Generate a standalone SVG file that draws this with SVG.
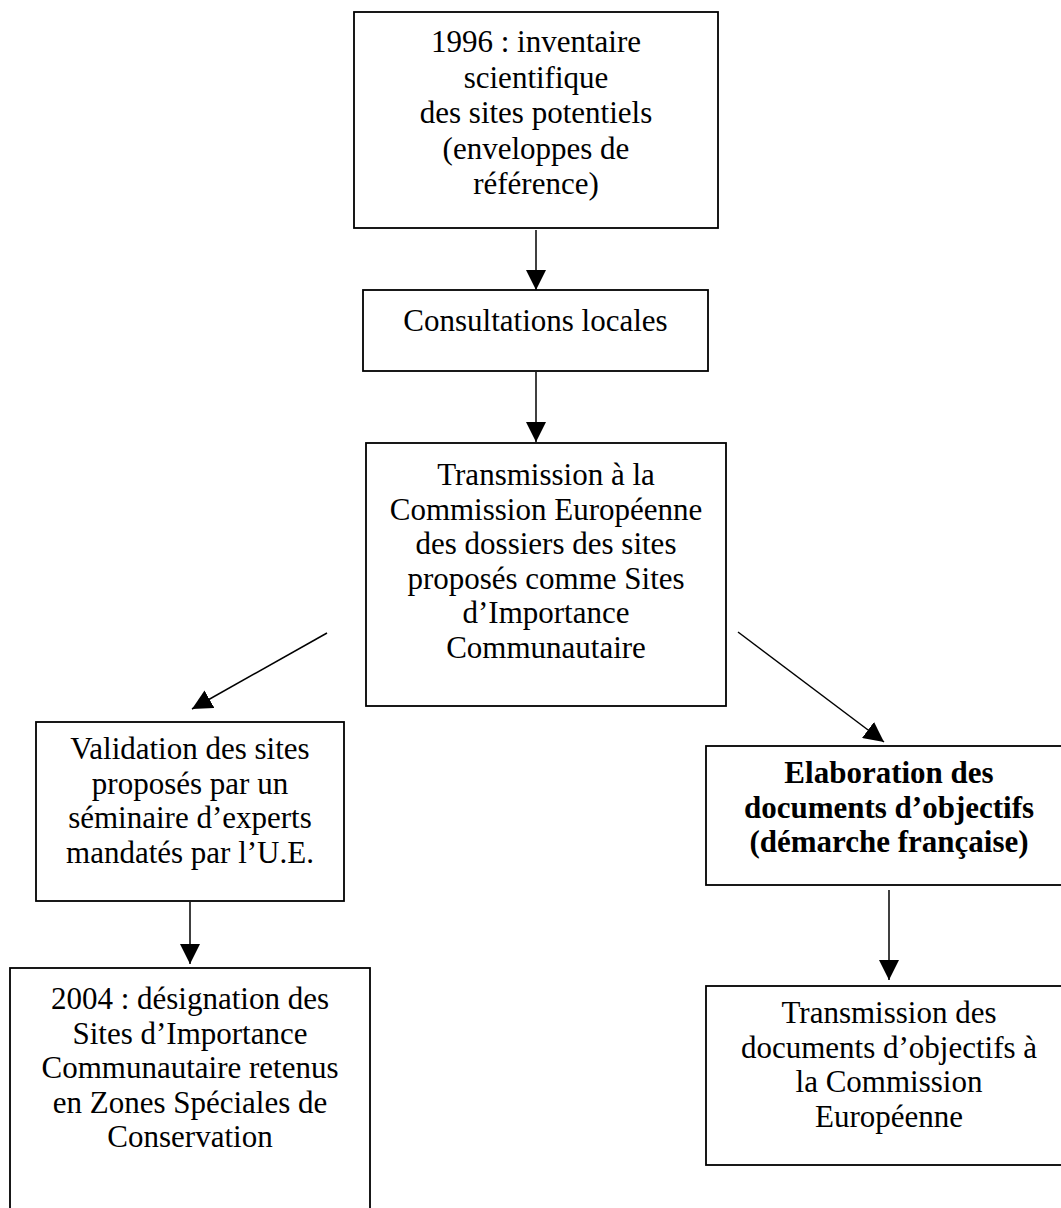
<svg xmlns="http://www.w3.org/2000/svg" width="1061" height="1208" viewBox="0 0 1061 1208">
<style>
.box{fill:#fff;stroke:#000;stroke-width:1.8}
.t{font-family:"Liberation Serif","Times New Roman",serif;font-size:31px;fill:#000;text-anchor:middle}
.b{font-weight:bold}
.c{stroke:#000;stroke-width:1.5;fill:none;marker-end:url(#ah)}
</style>
<defs>
<marker id="ah" markerUnits="userSpaceOnUse" markerWidth="20" markerHeight="20" refX="20" refY="10" orient="auto" viewBox="0 0 20 20">
<path d="M0,0 L20,10 L0,20 z" fill="#000"/>
</marker>
</defs>
<rect width="1061" height="1208" fill="#fff"/>
<g id="connectors">
<line class="c" x1="536" y1="230" x2="536" y2="290"/>
<line class="c" x1="536" y1="372" x2="536" y2="442"/>
<line class="c" x1="327" y1="633" x2="192" y2="709"/>
<line class="c" x1="738" y1="632" x2="884" y2="742"/>
<line class="c" x1="190" y1="902" x2="190" y2="964"/>
<line class="c" x1="889" y1="890" x2="889" y2="980"/>
</g>
<g id="n1">
<rect class="box" x="354" y="12" width="364" height="216"/>
<text class="t" x="536" y="52">1996 : inventaire</text>
<text class="t" x="536" y="87.5">scientifique</text>
<text class="t" x="536" y="123">des sites potentiels</text>
<text class="t" x="536" y="158.5">(enveloppes de</text>
<text class="t" x="536" y="194">référence)</text>
</g>
<g id="n2">
<rect class="box" x="363" y="290" width="345" height="81"/>
<text class="t" x="535.5" y="331">Consultations locales</text>
</g>
<g id="n3">
<rect class="box" x="366" y="443" width="360" height="263"/>
<text class="t" x="546" y="485">Transmission à la</text>
<text class="t" x="546" y="519.5">Commission Européenne</text>
<text class="t" x="546" y="554">des dossiers des sites</text>
<text class="t" x="546" y="588.5">proposés comme Sites</text>
<text class="t" x="546" y="623">d’Importance</text>
<text class="t" x="546" y="657.5">Communautaire</text>
</g>
<g id="n4">
<rect class="box" x="36" y="722" width="308" height="179"/>
<text class="t" x="190" y="759">Validation des sites</text>
<text class="t" x="190" y="793.5">proposés par un</text>
<text class="t" x="190" y="828">séminaire d’experts</text>
<text class="t" x="190" y="862.5">mandatés par l’U.E.</text>
</g>
<g id="n5">
<rect class="box" x="706" y="746" width="366" height="139"/>
<text class="t b" x="889" y="783">Elaboration des</text>
<text class="t b" x="889" y="817.5">documents d’objectifs</text>
<text class="t b" x="889" y="852">(démarche française)</text>
</g>
<g id="n6">
<rect class="box" x="706" y="986" width="366" height="179"/>
<text class="t" x="889" y="1023">Transmission des</text>
<text class="t" x="889" y="1057.5">documents d’objectifs à</text>
<text class="t" x="889" y="1092">la Commission</text>
<text class="t" x="889" y="1126.5">Européenne</text>
</g>
<g id="n7">
<rect class="box" x="10" y="968" width="360" height="260"/>
<text class="t" x="190" y="1009">2004 : désignation des</text>
<text class="t" x="190" y="1043.5">Sites d’Importance</text>
<text class="t" x="190" y="1078">Communautaire retenus</text>
<text class="t" x="190" y="1112.5">en Zones Spéciales de</text>
<text class="t" x="190" y="1147">Conservation</text>
</g>
</svg>
